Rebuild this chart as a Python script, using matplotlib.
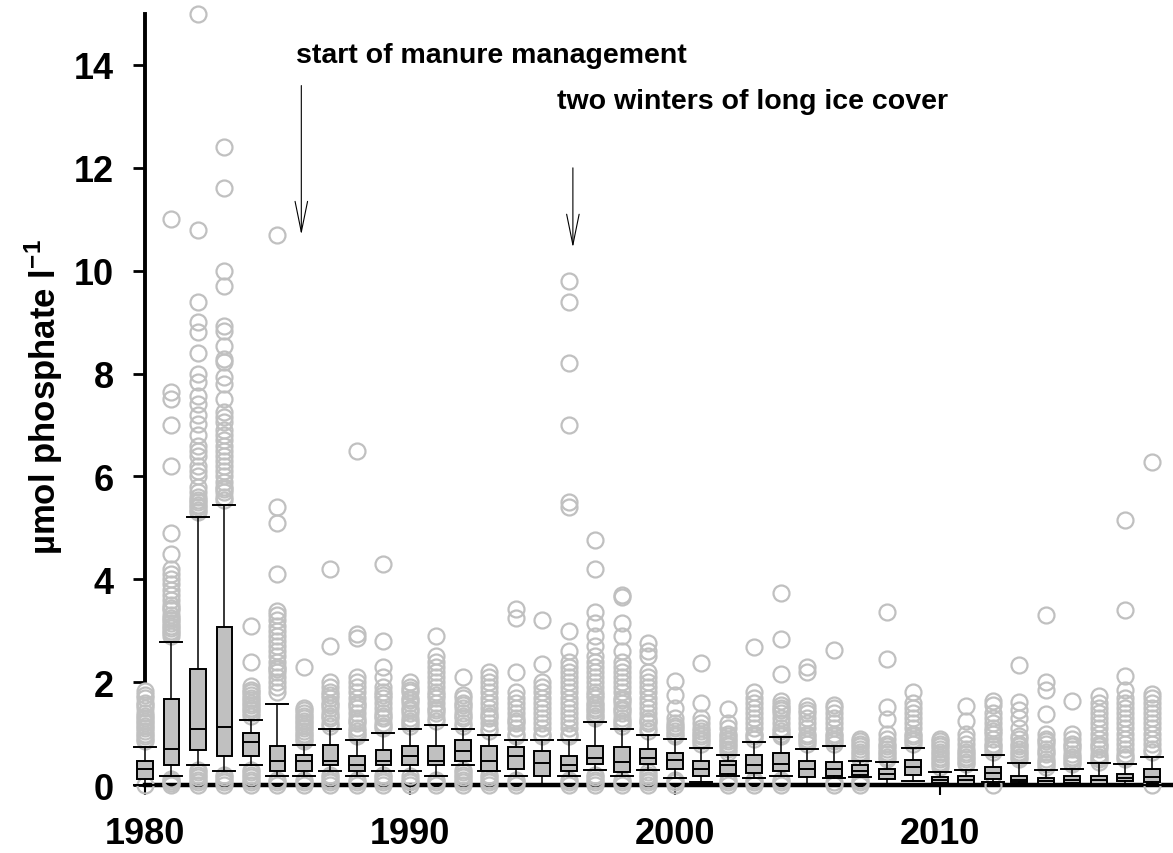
import matplotlib
matplotlib.use("Agg")
import matplotlib.pyplot as plt

plt.rcParams['font.family'] = ['Liberation Sans', 'DejaVu Sans']
plt.rcParams['font.weight'] = 'bold'
plt.rcParams['mathtext.fontset'] = 'custom'
plt.rcParams['mathtext.bf'] = 'Liberation Sans:bold'
plt.rcParams['mathtext.rm'] = 'Liberation Sans:bold'

# yearly box statistics (umol phosphate / l)
years = list(range(1980, 2019))
whis_lo = [0.0, 0.18, 0.38, 0.28, 0.38, 0.18, 0.18, 0.28, 0.18, 0.28,
           0.28, 0.18, 0.38, 0.28, 0.18, 0.0, 0.18, 0.3, 0.17, 0.3,
           0.14, 0.06, 0.17, 0.14, 0.18, 0.0, 0.14, 0.16, 0.0, 0.07,
           0.0, 0.0, 0.05, 0.0, 0.0, 0.0, 0.0, 0.0, 0.0]
q1 = [0.12, 0.38, 0.68, 0.57, 0.57, 0.28, 0.28, 0.38, 0.28, 0.38,
      0.38, 0.38, 0.47, 0.28, 0.32, 0.18, 0.28, 0.4, 0.25, 0.4,
      0.31, 0.18, 0.22, 0.23, 0.28, 0.16, 0.18, 0.2, 0.12, 0.2,
      0.03, 0.02, 0.12, 0.05, 0.02, 0.03, 0.02, 0.07, 0.06]
median = [0.32, 0.70, 1.08, 1.12, 0.83, 0.47, 0.47, 0.47, 0.38, 0.47,
          0.57, 0.47, 0.67, 0.47, 0.57, 0.42, 0.38, 0.52, 0.45, 0.52,
          0.48, 0.32, 0.38, 0.38, 0.41, 0.32, 0.31, 0.28, 0.22, 0.35,
          0.1, 0.09, 0.23, 0.09, 0.07, 0.1, 0.09, 0.14, 0.15]
q3 = [0.47, 1.67, 2.26, 3.07, 1.02, 0.76, 0.58, 0.78, 0.57, 0.68,
      0.76, 0.76, 0.87, 0.76, 0.73, 0.67, 0.57, 0.76, 0.73, 0.7,
      0.63, 0.47, 0.47, 0.58, 0.62, 0.47, 0.45, 0.38, 0.31, 0.48,
      0.16, 0.18, 0.35, 0.18, 0.14, 0.18, 0.18, 0.22, 0.32]
whis_hi = [0.73, 2.79, 5.22, 5.44, 1.27, 1.57, 0.78, 1.08, 0.88, 1.02,
           1.08, 1.17, 1.08, 0.97, 0.87, 0.87, 0.87, 1.22, 1.08, 0.98,
           0.89, 0.72, 0.58, 0.84, 0.93, 0.71, 0.75, 0.47, 0.44, 0.72,
           0.26, 0.3, 0.59, 0.43, 0.3, 0.31, 0.42, 0.41, 0.54]
outliers = [
    [0.0, 0.85, 0.9, 0.95, 1.0, 1.05, 1.1, 1.15, 1.2, 1.25, 1.3, 1.35, 1.4, 1.5, 1.55, 1.6, 1.7, 1.75, 1.82],
    [0.0, 0.04, 0.08, 0.12, 2.9, 2.95, 3.0, 3.05, 3.1, 3.15, 3.2, 3.25, 3.3, 3.4, 3.45, 3.5, 3.6, 3.7, 3.8,
     3.9, 4.0, 4.1, 4.2, 4.5, 4.9, 6.2, 7.0, 7.5, 7.65, 11.0],
    [0.0, 0.05, 0.1, 0.15, 0.2, 0.25, 0.3, 5.3, 5.35, 5.4, 5.45, 5.5, 5.55, 5.6, 5.7, 5.8, 6.0, 6.1, 6.2,
     6.4, 6.5, 6.6, 6.8, 7.02, 7.2, 7.41, 7.57, 7.83, 8.0, 8.4, 8.8, 9.0, 9.4, 10.8, 15.0],
    [0.0, 0.05, 0.1, 0.15, 0.2, 5.55, 5.6, 5.7, 5.75, 5.8, 5.9, 6.0, 6.1, 6.2, 6.3, 6.4, 6.5, 6.6, 6.7, 6.8,
     6.9, 7.05, 7.15, 7.25, 7.5, 7.8, 7.93, 8.22, 8.28, 8.54, 8.82, 8.93, 9.7, 10.0, 11.6, 12.4],
    [0.0, 0.05, 0.1, 0.15, 0.2, 0.25, 0.3, 1.35, 1.4, 1.45, 1.5, 1.55, 1.6, 1.65, 1.7, 1.75, 1.8, 1.85,
     1.93, 2.4, 3.1],
    [0.0, 0.05, 0.1, 1.8, 1.9, 2.0, 2.1, 2.2, 2.25, 2.3, 2.4, 2.5, 2.6, 2.7, 2.8, 2.9, 3.0, 3.1, 3.2, 3.3,
     3.39, 4.1, 5.1, 5.4, 10.7],
    [0.0, 0.05, 0.1, 0.85, 0.9, 0.95, 1.0, 1.05, 1.1, 1.15, 1.2, 1.25, 1.3, 1.35, 1.4, 1.45, 1.5, 2.3],
    [0.0, 0.05, 0.1, 0.15, 0.2, 1.15, 1.2, 1.3, 1.35, 1.4, 1.5, 1.55, 1.6, 1.7, 1.75, 1.8, 1.9, 2.0, 2.7, 4.2],
    [0.0, 0.05, 0.1, 0.95, 1.0, 1.05, 1.1, 1.2, 1.25, 1.3, 1.4, 1.5, 1.55, 1.6, 1.7, 1.8, 1.9, 2.0, 2.1,
     2.85, 2.94, 6.5],
    [0.0, 0.05, 0.1, 0.15, 0.2, 1.1, 1.15, 1.2, 1.3, 1.35, 1.4, 1.5, 1.6, 1.7, 1.75, 1.8, 1.9, 2.1, 2.3, 2.8, 4.3],
    [0.0, 0.05, 0.1, 0.17, 1.15, 1.2, 1.25, 1.3, 1.4, 1.45, 1.5, 1.6, 1.65, 1.7, 1.8, 1.85, 1.9, 2.0],
    [0.0, 0.05, 0.1, 1.25, 1.3, 1.4, 1.45, 1.5, 1.6, 1.7, 1.75, 1.8, 1.9, 2.0, 2.1, 2.2, 2.3, 2.4, 2.5, 2.9],
    [0.0, 0.05, 0.1, 0.15, 0.2, 0.25, 0.3, 1.15, 1.2, 1.3, 1.35, 1.4, 1.5, 1.55, 1.6, 1.7, 1.75, 2.1],
    [0.0, 0.05, 0.1, 0.15, 0.2, 1.05, 1.1, 1.2, 1.3, 1.35, 1.4, 1.5, 1.6, 1.7, 1.8, 1.9, 2.0, 2.1, 2.2],
    [0.0, 0.05, 0.1, 0.95, 1.0, 1.1, 1.2, 1.25, 1.3, 1.4, 1.5, 1.6, 1.7, 1.8, 2.2, 3.24, 3.42],
    [0.95, 1.0, 1.1, 1.2, 1.3, 1.4, 1.5, 1.6, 1.7, 1.8, 1.9, 2.0, 2.35, 3.2],
    [0.0, 0.05, 0.1, 0.95, 1.0, 1.1, 1.2, 1.3, 1.4, 1.5, 1.6, 1.7, 1.8, 1.9, 2.0, 2.1, 2.2, 2.3, 2.4, 2.61,
     3.0, 5.4, 5.5, 7.0, 8.2, 9.4, 9.8],
    [0.0, 0.05, 0.1, 0.15, 0.2, 1.3, 1.35, 1.4, 1.45, 1.5, 1.55, 1.6, 1.7, 1.75, 1.8, 1.9, 2.0, 2.1, 2.2,
     2.3, 2.4, 2.5, 2.7, 2.9, 3.16, 3.36, 4.2, 4.77],
    [0.0, 0.05, 0.1, 1.15, 1.2, 1.25, 1.3, 1.4, 1.45, 1.5, 1.6, 1.65, 1.7, 1.8, 1.9, 2.0, 2.1, 2.2, 2.3,
     2.4, 2.6, 2.9, 3.16, 3.65, 3.7],
    [0.0, 0.05, 0.1, 0.15, 0.2, 0.25, 1.05, 1.1, 1.2, 1.25, 1.3, 1.4, 1.5, 1.6, 1.7, 1.8, 1.9, 2.0, 2.1,
     2.2, 2.5, 2.6, 2.77],
    [0.0, 0.05, 0.1, 0.95, 1.0, 1.05, 1.1, 1.15, 1.2, 1.3, 1.5, 1.75, 2.03],
    [0.8, 0.85, 0.9, 0.95, 1.0, 1.05, 1.1, 1.2, 1.3, 1.6, 2.37],
    [0.0, 0.05, 0.1, 0.65, 0.7, 0.75, 0.8, 0.85, 0.9, 0.95, 1.0, 1.1, 1.2, 1.48],
    [0.0, 0.05, 0.1, 0.9, 0.95, 1.0, 1.1, 1.2, 1.3, 1.4, 1.5, 1.6, 1.7, 1.81, 2.68],
    [0.0, 0.05, 0.1, 0.95, 1.0, 1.05, 1.1, 1.2, 1.3, 1.4, 1.45, 1.5, 1.55, 1.64, 2.16, 2.84, 3.73],
    [0.8, 0.85, 0.9, 0.95, 1.0, 1.1, 1.2, 1.3, 1.4, 1.45, 1.54, 2.2, 2.29],
    [0.0, 0.05, 0.8, 0.85, 0.9, 0.95, 1.0, 1.1, 1.2, 1.3, 1.4, 1.5, 1.55, 2.62],
    [0.0, 0.05, 0.1, 0.5, 0.55, 0.6, 0.65, 0.7, 0.75, 0.8, 0.85, 0.9],
    [0.5, 0.55, 0.6, 0.65, 0.7, 0.75, 0.8, 0.9, 1.0, 1.28, 1.52, 2.45, 3.36],
    [0.8, 0.85, 0.9, 0.95, 1.0, 1.1, 1.2, 1.3, 1.4, 1.5, 1.6, 1.81],
    [0.35, 0.4, 0.45, 0.5, 0.55, 0.6, 0.65, 0.7, 0.75, 0.8, 0.85, 0.9],
    [0.4, 0.45, 0.5, 0.55, 0.6, 0.65, 0.7, 0.8, 0.9, 1.0, 1.25, 1.54],
    [0.0, 0.65, 0.7, 0.75, 0.8, 0.9, 1.0, 1.05, 1.1, 1.2, 1.3, 1.4, 1.55, 1.64],
    [0.5, 0.55, 0.6, 0.65, 0.7, 0.75, 0.8, 0.9, 0.95, 1.1, 1.3, 1.45, 1.61, 2.33],
    [0.35, 0.4, 0.45, 0.5, 0.6, 0.65, 0.7, 0.8, 0.85, 0.9, 1.0, 1.38, 1.85, 2.0, 3.3],
    [0.4, 0.45, 0.5, 0.55, 0.6, 0.7, 0.75, 0.8, 0.9, 1.0, 1.64],
    [0.45, 0.5, 0.55, 0.6, 0.7, 0.75, 0.8, 0.9, 1.0, 1.1, 1.2, 1.3, 1.4, 1.5, 1.6, 1.74],
    [0.5, 0.55, 0.6, 0.7, 0.8, 0.9, 1.0, 1.1, 1.2, 1.3, 1.4, 1.5, 1.6, 1.7, 1.85, 2.12, 3.4, 5.16],
    [0.0, 0.65, 0.7, 0.8, 0.9, 1.0, 1.1, 1.2, 1.3, 1.4, 1.5, 1.6, 1.7, 1.77, 6.29],
]
y_ticks = [0, 2, 4, 6, 8, 10, 12, 14]
x_ticks = [1980, 1990, 2000, 2010]

# build the stats dicts bxp wants
stats = []
for i in range(len(years)):
    stats.append({'whislo': whis_lo[i], 'q1': q1[i], 'med': median[i], 'q3': q3[i],
                  'whishi': whis_hi[i], 'fliers': outliers[i]})

fig = plt.figure(figsize=(11.73, 8.54), dpi=100)
ax = fig.add_axes([0.1078, 0.0585, 0.8922, 0.9365])

ax.bxp(stats, positions=years, widths=0.6, capwidths=0.83, patch_artist=True,
       boxprops=dict(facecolor='#c0c0c0', edgecolor='black', linewidth=1.4),
       medianprops=dict(color='black', linewidth=1.4),
       whiskerprops=dict(color='black', linewidth=1.1),
       capprops=dict(color='black', linewidth=1.4),
       flierprops=dict(marker='o', markersize=11.5, markerfacecolor='none',
                       markeredgecolor='#c0c0c0', markeredgewidth=1.6, zorder=3),
       zorder=4)

ax.set_xlim(1979.3, 2018.8)
ax.set_ylim(-0.35, 15.2)

for side in ['top', 'right']:
    ax.spines[side].set_visible(False)
ax.spines['left'].set_position(('data', 1980))
ax.spines['left'].set_bounds(2, 15)
ax.spines['left'].set_linewidth(2.8)
ax.spines['bottom'].set_position(('data', 0))
ax.spines['bottom'].set_bounds(1980, 2018.8)
ax.spines['bottom'].set_linewidth(3.2)

ax.set_yticks(y_ticks)
ax.set_yticklabels([str(t) for t in y_ticks])
ax.set_xticks(x_ticks)
ax.set_xticklabels([str(t) for t in x_ticks])
ax.tick_params(axis='y', direction='out', length=8.5, width=2.0, pad=14, labelsize=26)
ax.tick_params(axis='x', direction='out', length=7, width=1.5, pad=15, labelsize=26)
for lab in ax.get_xticklabels() + ax.get_yticklabels():
    lab.set_fontweight('bold')

fig.text(44 / 1173, 1 - 397 / 854, r'µmol phosphate l$^{\mathbf{-1}}$', rotation=90,
         ha='center', va='center', fontsize=25, fontweight='bold')

# event markers
ax.text(1985.7, 14.2, 'start of manure management', fontsize=20.5, fontweight='bold',
        ha='left', va='center')
ax.annotate('', xy=(1985.9, 10.7), xytext=(1985.9, 13.6),
            arrowprops=dict(arrowstyle='->,head_length=2.2,head_width=0.45', color='black',
                            lw=0.8, mutation_scale=10, shrinkA=0, shrinkB=0))
ax.text(1995.55, 13.3, 'two winters of long ice cover', fontsize=20.5, fontweight='bold',
        ha='left', va='center')
ax.annotate('', xy=(1996.15, 10.45), xytext=(1996.15, 12.0),
            arrowprops=dict(arrowstyle='->,head_length=2.2,head_width=0.45', color='black',
                            lw=0.8, mutation_scale=10, shrinkA=0, shrinkB=0))

fig.savefig('out.png', dpi=100)
